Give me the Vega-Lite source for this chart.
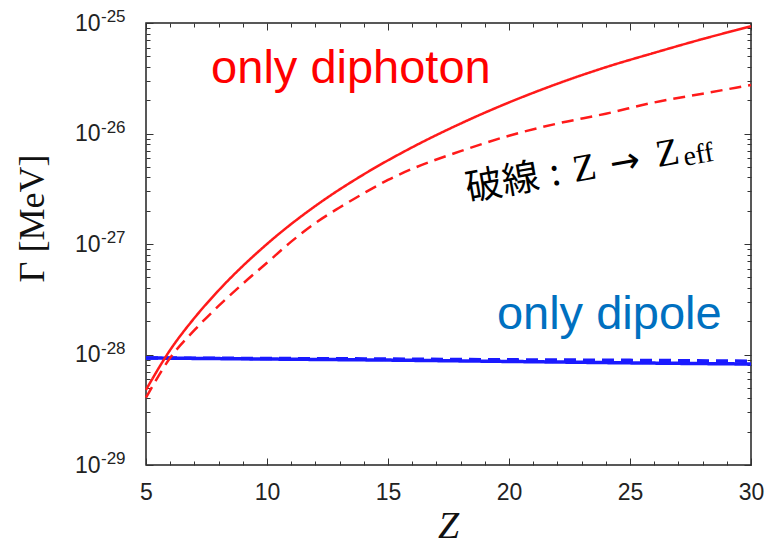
{
  "$schema": "https://vega.github.io/schema/vega-lite/v6.json",
  "width": 605,
  "height": 442,
  "autosize": {"type": "none"},
  "padding": {"left": 146, "top": 23, "right": 16, "bottom": 79},
  "background": "white",
  "config": {
    "view": {"stroke": "#222", "strokeWidth": 1.5}
  },
  "datasets": {
    "curves": [
      {"Z": 5, "G": 4.79e-29, "s": "diphoton", "k": "solid"},
      {"Z": 6, "G": 1.10e-28, "s": "diphoton", "k": "solid"},
      {"Z": 7, "G": 2.14e-28, "s": "diphoton", "k": "solid"},
      {"Z": 8, "G": 3.80e-28, "s": "diphoton", "k": "solid"},
      {"Z": 10, "G": 1.0e-27, "s": "diphoton", "k": "solid"},
      {"Z": 12, "G": 2.21e-27, "s": "diphoton", "k": "solid"},
      {"Z": 14, "G": 4.27e-27, "s": "diphoton", "k": "solid"},
      {"Z": 16, "G": 7.5e-27, "s": "diphoton", "k": "solid"},
      {"Z": 18, "G": 1.23e-26, "s": "diphoton", "k": "solid"},
      {"Z": 20, "G": 1.91e-26, "s": "diphoton", "k": "solid"},
      {"Z": 22, "G": 2.82e-26, "s": "diphoton", "k": "solid"},
      {"Z": 24, "G": 3.98e-26, "s": "diphoton", "k": "solid"},
      {"Z": 26, "G": 5.37e-26, "s": "diphoton", "k": "solid"},
      {"Z": 28, "G": 7.16e-26, "s": "diphoton", "k": "solid"},
      {"Z": 30, "G": 9.33e-26, "s": "diphoton", "k": "solid"},
      {"Z": 5, "G": 4.07e-29, "s": "diphoton", "k": "dashed"},
      {"Z": 6, "G": 9.33e-29, "s": "diphoton", "k": "dashed"},
      {"Z": 7, "G": 1.66e-28, "s": "diphoton", "k": "dashed"},
      {"Z": 8, "G": 2.75e-28, "s": "diphoton", "k": "dashed"},
      {"Z": 9, "G": 4.37e-28, "s": "diphoton", "k": "dashed"},
      {"Z": 10, "G": 6.76e-28, "s": "diphoton", "k": "dashed"},
      {"Z": 11, "G": 1.05e-27, "s": "diphoton", "k": "dashed"},
      {"Z": 12, "G": 1.55e-27, "s": "diphoton", "k": "dashed"},
      {"Z": 13, "G": 2.14e-27, "s": "diphoton", "k": "dashed"},
      {"Z": 14, "G": 2.88e-27, "s": "diphoton", "k": "dashed"},
      {"Z": 15, "G": 3.80e-27, "s": "diphoton", "k": "dashed"},
      {"Z": 16, "G": 4.79e-27, "s": "diphoton", "k": "dashed"},
      {"Z": 18, "G": 6.92e-27, "s": "diphoton", "k": "dashed"},
      {"Z": 20, "G": 9.55e-27, "s": "diphoton", "k": "dashed"},
      {"Z": 22, "G": 1.23e-26, "s": "diphoton", "k": "dashed"},
      {"Z": 24, "G": 1.51e-26, "s": "diphoton", "k": "dashed"},
      {"Z": 26, "G": 1.91e-26, "s": "diphoton", "k": "dashed"},
      {"Z": 28, "G": 2.29e-26, "s": "diphoton", "k": "dashed"},
      {"Z": 30, "G": 2.75e-26, "s": "diphoton", "k": "dashed"},
      {"Z": 5, "G": 9.3e-29, "s": "dipole", "k": "solid"},
      {"Z": 10, "G": 9.1e-29, "s": "dipole", "k": "solid"},
      {"Z": 15, "G": 8.9e-29, "s": "dipole", "k": "solid"},
      {"Z": 20, "G": 8.65e-29, "s": "dipole", "k": "solid"},
      {"Z": 25, "G": 8.4e-29, "s": "dipole", "k": "solid"},
      {"Z": 30, "G": 8.2e-29, "s": "dipole", "k": "solid"},
      {"Z": 5, "G": 9.3e-29, "s": "dipole", "k": "dashed"},
      {"Z": 10, "G": 9.2e-29, "s": "dipole", "k": "dashed"},
      {"Z": 15, "G": 9.1e-29, "s": "dipole", "k": "dashed"},
      {"Z": 20, "G": 8.95e-29, "s": "dipole", "k": "dashed"},
      {"Z": 25, "G": 8.85e-29, "s": "dipole", "k": "dashed"},
      {"Z": 30, "G": 8.7e-29, "s": "dipole", "k": "dashed"}
    ],
    "ann": [
      {"Z": 7.69, "G": 2.87e-26, "text": "only diphoton", "g": "red"},
      {"Z": 19.5, "G": 1.7e-28, "text": "only dipole", "g": "blue"},
      {"Z": 18.31, "G": 2.45e-27, "text": "破線", "g": "jp"},
      {"Z": 21.78, "G": 3.35e-27, "text": ":", "g": "jp"},
      {"Z": 22.73, "G": 3.64e-27, "text": "Z", "g": "serif"},
      {"Z": 24.26, "G": 4.12e-27, "text": "→", "g": "arrow"},
      {"Z": 26.16, "G": 4.98e-27, "text": "Z", "g": "serif"},
      {"Z": 27.27, "G": 5.08e-27, "text": "eff", "g": "sub"}
    ],
    "exps": [
      {"Z": 5, "G": 1e-25, "e": "-25"},
      {"Z": 5, "G": 1e-26, "e": "-26"},
      {"Z": 5, "G": 1e-27, "e": "-27"},
      {"Z": 5, "G": 1e-28, "e": "-28"},
      {"Z": 5, "G": 1e-29, "e": "-29"}
    ]
  },
  "encoding": {
    "x": {
      "field": "Z",
      "type": "quantitative",
      "scale": {"domain": [5, 30], "nice": false, "zero": false},
      "axis": {
        "values": [5,6,7,8,9,10,11,12,13,14,15,16,17,18,19,20,21,22,23,24,25,26,27,28,29,30],
        "labelExpr": "datum.value % 5 === 0 ? datum.label : ''",
        "labelFlush": false,
        "labelOverlap": false,
        "ticks": false,
        "domain": false,
        "grid": true,
        "gridColor": "#333",
        "gridWidth": 1,
        "gridOpacity": 1,
        "gridDash": {"condition": {"test": "datum.value % 5 === 0", "value": [7, 428, 7, 0]}, "value": [4, 434, 4, 0]},
        "labelFont": "Liberation Sans",
        "labelFontSize": 23,
        "labelColor": "#222",
        "labelPadding": 16,
        "title": "Z",
        "titleFont": "Liberation Serif",
        "titleFontStyle": "italic",
        "titleFontWeight": "normal",
        "titleFontSize": 38,
        "titleColor": "#111",
        "titleX": 302,
        "titleY": 72,
        "titleBaseline": "alphabetic",
        "titleAlign": "center"
      }
    },
    "y": {
      "field": "G",
      "type": "quantitative",
      "scale": {"type": "log", "domain": [1e-29, 1e-25], "nice": false},
      "axis": {
        "values": [1e-29,2e-29,3e-29,4e-29,5e-29,6e-29,7e-29,8e-29,9e-29,1e-28,2e-28,3e-28,4e-28,5e-28,6e-28,7e-28,8e-28,9e-28,1e-27,2e-27,3e-27,4e-27,5e-27,6e-27,7e-27,8e-27,9e-27,1e-26,2e-26,3e-26,4e-26,5e-26,6e-26,7e-26,8e-26,9e-26,1e-25],
        "labelExpr": "abs(log(datum.value)/LN10 - round(log(datum.value)/LN10)) > 0.01 ? '' : '10'",
        "labelOverlap": false,
        "ticks": false,
        "domain": false,
        "grid": true,
        "gridColor": "#333",
        "gridWidth": 1,
        "gridOpacity": 1,
        "gridDash": {"condition": {"test": "abs(log(datum.value)/LN10 - round(log(datum.value)/LN10)) < 0.01", "value": [7, 591, 7, 0]}, "value": [4, 597, 4, 0]},
        "labelFont": "Liberation Sans",
        "labelFontSize": 23,
        "labelColor": "#222",
        "labelPadding": 46,
        "title": "Γ [MeV]",
        "titleFont": "Liberation Serif",
        "titleFontWeight": "normal",
        "titleFontSize": 36,
        "titleColor": "#111",
        "titleX": -103,
        "titleY": 195,
        "titleAngle": -90,
        "titleAlign": "center",
        "titleBaseline": "alphabetic"
      }
    }
  },
  "layer": [
    {
      "data": {"name": "curves"},
      "transform": [{"filter": "datum.s === 'dipole'"}],
      "mark": {"type": "line", "interpolate": "monotone", "strokeWidth": 3.5, "color": "#1a1aff"},
      "encoding": {
        "detail": {"field": "k"},
        "strokeDash": {"field": "k", "type": "nominal", "scale": {"domain": ["solid", "dashed"], "range": [[1, 0], [12, 7]]}, "legend": null}
      }
    },
    {
      "data": {"name": "curves"},
      "transform": [{"filter": "datum.s === 'diphoton'"}],
      "mark": {"type": "line", "interpolate": "monotone", "strokeWidth": 2.5, "color": "#ff1a1a"},
      "encoding": {
        "detail": {"field": "k"},
        "strokeDash": {"field": "k", "type": "nominal", "scale": {"domain": ["solid", "dashed"], "range": [[1, 0], [17, 9]]}, "legend": null}
      }
    },
    {
      "data": {"name": "exps"},
      "mark": {"type": "text", "font": "Liberation Sans", "fontSize": 17, "color": "#222", "align": "left", "baseline": "alphabetic", "dx": -45, "dy": -1},
      "encoding": {"text": {"field": "e"}}
    },
    {
      "data": {"name": "ann"},
      "transform": [{"filter": "datum.g === 'red'"}],
      "mark": {"type": "text", "font": "Liberation Sans", "fontSize": 47, "color": "#ff0000", "align": "left", "baseline": "alphabetic"},
      "encoding": {"text": {"field": "text"}}
    },
    {
      "data": {"name": "ann"},
      "transform": [{"filter": "datum.g === 'blue'"}],
      "mark": {"type": "text", "font": "Liberation Sans", "fontSize": 47, "color": "#0070c0", "align": "left", "baseline": "alphabetic"},
      "encoding": {"text": {"field": "text"}}
    },
    {
      "data": {"name": "ann"},
      "transform": [{"filter": "datum.g === 'jp'"}],
      "mark": {"type": "text", "font": "Noto Sans CJK JP", "fontSize": 37, "color": "#000", "align": "left", "baseline": "alphabetic", "angle": -10},
      "encoding": {"text": {"field": "text"}}
    },
    {
      "data": {"name": "ann"},
      "transform": [{"filter": "datum.g === 'serif'"}],
      "mark": {"type": "text", "font": "Liberation Serif", "fontSize": 38, "color": "#000", "align": "left", "baseline": "alphabetic", "angle": -10},
      "encoding": {"text": {"field": "text"}}
    },
    {
      "data": {"name": "ann"},
      "transform": [{"filter": "datum.g === 'arrow'"}],
      "mark": {"type": "text", "font": "DejaVu Sans", "fontSize": 36, "color": "#000", "align": "left", "baseline": "alphabetic", "angle": -10},
      "encoding": {"text": {"field": "text"}}
    },
    {
      "data": {"name": "ann"},
      "transform": [{"filter": "datum.g === 'sub'"}],
      "mark": {"type": "text", "font": "Liberation Serif", "fontSize": 28, "color": "#000", "align": "left", "baseline": "alphabetic", "angle": -10},
      "encoding": {"text": {"field": "text"}}
    }
  ]
}
